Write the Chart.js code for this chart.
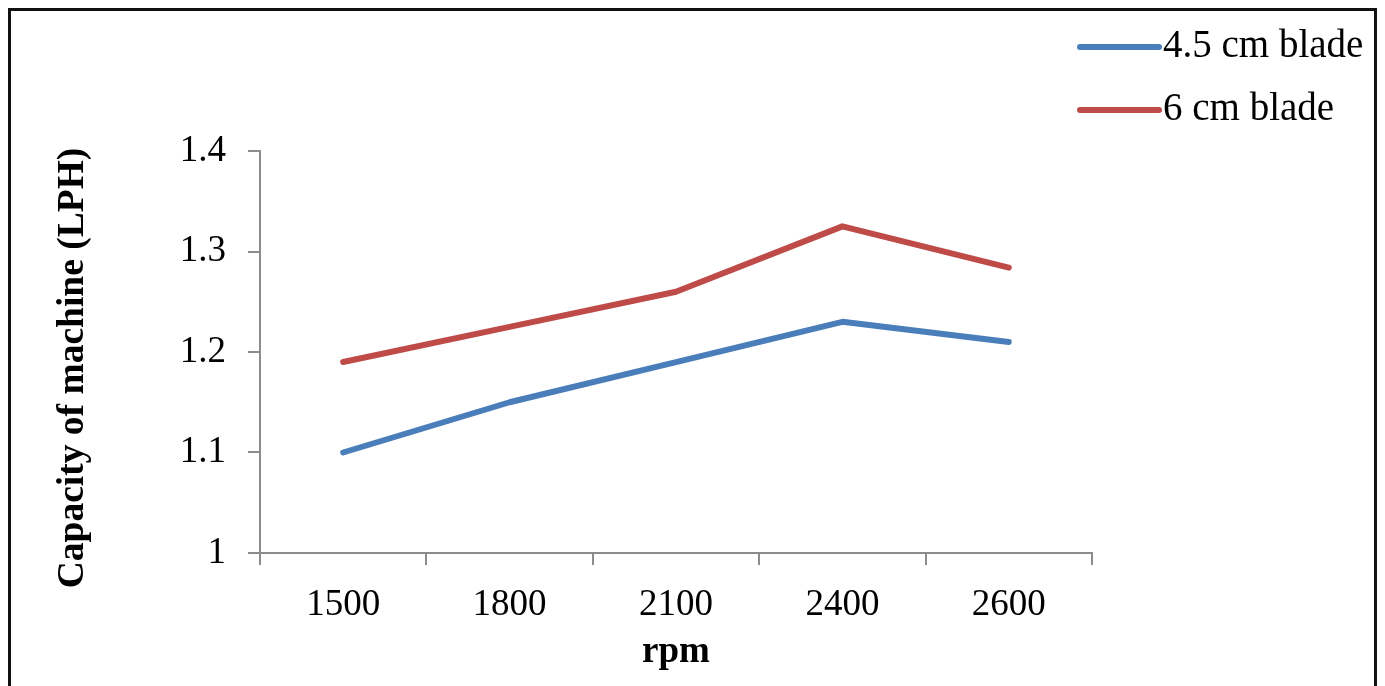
<!DOCTYPE html>
<html>
<head>
<meta charset="utf-8">
<title>Capacity of machine vs rpm</title>
<script src="https://cdn.jsdelivr.net/npm/chart.js@4/dist/chart.umd.min.js"></script>
<style>
  html, body { margin: 0; padding: 0; background: #fff; overflow: hidden; }
  #wrap { position: relative; width: 1385px; height: 686px; }
  #frame {
    position: absolute; left: 8px; top: 8px; width: 1369px; height: 720px;
    border: 3px solid #111; border-bottom: none; box-sizing: border-box;
  }
  canvas { position: absolute; left: 0; top: 0; }
</style>
</head>
<body>
<div id="wrap">
  <div id="frame"></div>
  <canvas id="chart" width="1385" height="686"></canvas>
</div>
<script>
/* ── DATA ── */
const rpmLabels  = ['1500', '1800', '2100', '2400', '2600'];
const blade45    = [1.10, 1.15, 1.19, 1.23, 1.21];
const blade6     = [1.19, 1.225, 1.26, 1.325, 1.284];
const seriesName = ['4.5 cm blade', '6 cm blade'];
const seriesCol  = ['#4a7ebb', '#be4b48'];

const SERIF = "'Liberation Serif', 'Times New Roman', serif";
const AXIS  = '#8c8c8c';

/* ── custom legend (top right) + rotated y title ── */
const extras = {
  id: 'extras',
  afterDraw(chart) {
    const ctx = chart.ctx;
    ctx.save();
    // legend
    chart.data.datasets.forEach((ds, i) => {
      const y = 47 + i * 63;
      ctx.strokeStyle = ds.borderColor;
      ctx.lineWidth = 6;
      ctx.lineCap = 'round';
      ctx.beginPath();
      ctx.moveTo(1080, y);
      ctx.lineTo(1159, y);
      ctx.stroke();
      ctx.fillStyle = '#000';
      ctx.font = '39px ' + SERIF;
      ctx.textAlign = 'left';
      ctx.textBaseline = 'middle';
      ctx.fillText(ds.label, 1163, y);
    });
    // y axis title
    ctx.translate(73, 368);
    ctx.rotate(-Math.PI / 2);
    ctx.font = 'bold 37.5px ' + SERIF;
    ctx.textAlign = 'center';
    ctx.textBaseline = 'middle';
    ctx.fillStyle = '#000';
    ctx.fillText('Capacity of machine (LPH)', 0, 0);
    ctx.restore();
  }
};

new Chart(document.getElementById('chart').getContext('2d'), {
  type: 'line',
  data: {
    labels: rpmLabels,
    datasets: [
      { label: seriesName[0], data: blade45, borderColor: seriesCol[0], backgroundColor: seriesCol[0],
        borderWidth: 6, pointRadius: 0, tension: 0, borderCapStyle: 'round', borderJoinStyle: 'round' },
      { label: seriesName[1], data: blade6, borderColor: seriesCol[1], backgroundColor: seriesCol[1],
        borderWidth: 6, pointRadius: 0, tension: 0, borderCapStyle: 'round', borderJoinStyle: 'round' },
    ],
  },
  options: {
    responsive: false,
    animation: false,
    layout: { padding: { left: 0, top: 151, right: 293, bottom: 0 } },
    plugins: { legend: { display: false }, tooltip: { enabled: false } },
    scales: {
      x: {
        offset: true,
        afterFit: s => { s.height = 133; },
        grid: { offset: true, drawOnChartArea: false, drawTicks: true, tickLength: 12, color: AXIS, lineWidth: 2 },
        border: { color: AXIS, width: 2 },
        ticks: { color: '#000', padding: 18, font: { family: SERIF, size: 37 } },
        title: { display: true, text: 'rpm', color: '#000', padding: { top: 0, bottom: 11 },
                 font: { family: SERIF, size: 37, weight: 'bold' } },
      },
      y: {
        min: 1, max: 1.4,
        afterFit: s => { s.width = 260; },
        grid: { drawOnChartArea: false, drawTicks: true, tickLength: 12, color: AXIS, lineWidth: 2 },
        border: { color: AXIS, width: 2 },
        ticks: { stepSize: 0.1, color: '#000', padding: 22, font: { family: SERIF, size: 37 },
                 callback: v => String(Math.round(v * 10) / 10) },
      },
    },
  },
  plugins: [extras],
});
</script>
</body>
</html>
